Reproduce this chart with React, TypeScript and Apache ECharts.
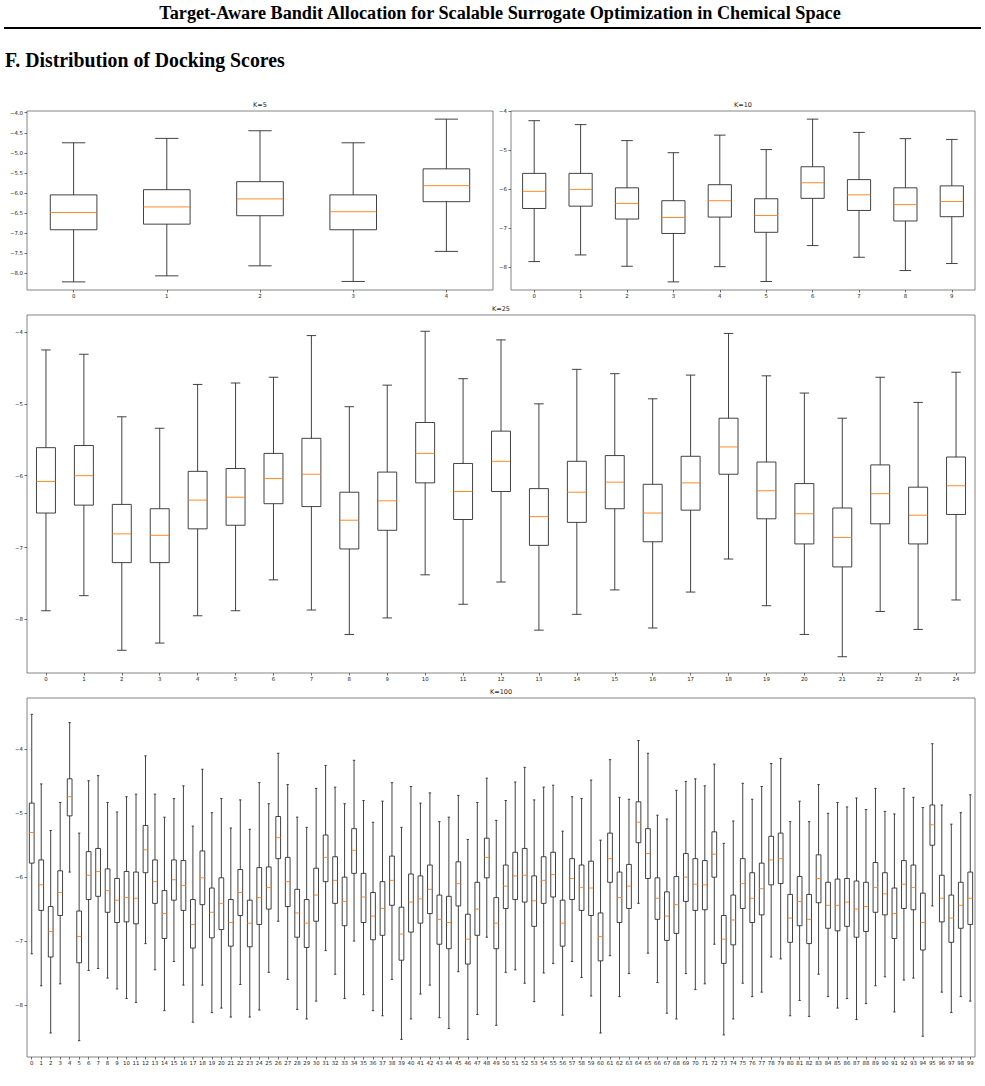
import React, { useEffect, useRef } from "react";
import * as echarts from "echarts";

// Each box: [lower whisker, Q1, median, Q3, upper whisker]
const k5Boxes: number[][] = [
  [-8.22, -6.92, -6.49, -6.05, -4.75],
  [-8.07, -6.78, -6.35, -5.92, -4.64],
  [-7.82, -6.57, -6.15, -5.72, -4.45],
  [-8.21, -6.92, -6.47, -6.05, -4.75],
  [-7.46, -6.22, -5.82, -5.40, -4.16],
];

const k10Boxes: number[][] = [
  [-7.85, -6.49, -6.05, -5.59, -4.24],
  [-7.68, -6.43, -6.00, -5.59, -4.34],
  [-7.97, -6.76, -6.36, -5.96, -4.75],
  [-8.37, -7.13, -6.72, -6.29, -5.06],
  [-7.98, -6.71, -6.29, -5.88, -4.61],
  [-8.36, -7.10, -6.67, -6.24, -4.98],
  [-7.44, -6.23, -5.83, -5.42, -4.20],
  [-7.74, -6.54, -6.14, -5.75, -4.54],
  [-8.08, -6.81, -6.39, -5.96, -4.70],
  [-7.90, -6.70, -6.31, -5.91, -4.72],
];

const k25Boxes: number[][] = [
  [-7.88, -6.52, -6.08, -5.61, -4.25],
  [-7.67, -6.41, -6.00, -5.58, -4.31],
  [-8.43, -7.21, -6.81, -6.40, -5.18],
  [-8.33, -7.21, -6.83, -6.46, -5.34],
  [-7.95, -6.74, -6.34, -5.94, -4.73],
  [-7.88, -6.69, -6.30, -5.90, -4.71],
  [-7.45, -6.39, -6.04, -5.69, -4.63],
  [-7.87, -6.43, -5.98, -5.48, -4.05],
  [-8.21, -7.02, -6.62, -6.23, -5.04],
  [-7.98, -6.76, -6.35, -5.95, -4.74],
  [-7.38, -6.10, -5.69, -5.26, -3.99],
  [-7.79, -6.61, -6.22, -5.83, -4.65],
  [-7.48, -6.22, -5.80, -5.38, -4.11],
  [-8.15, -6.97, -6.57, -6.18, -5.00],
  [-7.93, -6.65, -6.23, -5.80, -4.52],
  [-7.59, -6.46, -6.09, -5.72, -4.58],
  [-8.12, -6.92, -6.52, -6.12, -4.93],
  [-7.62, -6.48, -6.10, -5.73, -4.60],
  [-7.16, -5.98, -5.60, -5.20, -4.02],
  [-7.81, -6.60, -6.21, -5.81, -4.61],
  [-8.21, -6.95, -6.53, -6.11, -4.85],
  [-8.52, -7.27, -6.86, -6.45, -5.20],
  [-7.89, -6.67, -6.25, -5.85, -4.63],
  [-8.14, -6.95, -6.55, -6.16, -4.98],
  [-7.73, -6.54, -6.14, -5.74, -4.56],
];

const k100Boxes: number[][] = [
  [-7.20, -5.78, -5.30, -4.84, -3.45],
  [-7.70, -6.52, -6.12, -5.73, -4.54],
  [-8.44, -7.25, -6.85, -6.46, -5.27],
  [-7.67, -6.60, -6.24, -5.90, -4.83],
  [-5.92, -5.04, -4.74, -4.46, -3.58],
  [-8.56, -7.34, -6.93, -6.53, -5.31],
  [-7.46, -6.35, -5.97, -5.60, -4.49],
  [-7.43, -6.30, -5.91, -5.55, -4.41],
  [-7.58, -6.55, -6.21, -5.87, -4.83],
  [-7.75, -6.71, -6.36, -6.02, -4.98],
  [-7.90, -6.70, -6.32, -5.91, -4.74],
  [-7.96, -6.73, -6.33, -5.92, -4.70],
  [-7.04, -5.93, -5.57, -5.19, -4.10],
  [-7.45, -6.41, -6.07, -5.73, -4.70],
  [-8.09, -6.96, -6.57, -6.21, -5.06],
  [-7.32, -6.36, -6.04, -5.73, -4.77],
  [-7.69, -6.52, -6.13, -5.74, -4.57],
  [-8.27, -7.11, -6.74, -6.35, -5.20],
  [-7.69, -6.43, -6.01, -5.59, -4.31],
  [-8.12, -6.95, -6.55, -6.17, -4.99],
  [-8.05, -6.82, -6.41, -6.01, -4.77],
  [-8.19, -7.08, -6.71, -6.35, -5.23],
  [-7.68, -6.60, -6.24, -5.88, -4.79],
  [-8.19, -7.09, -6.72, -6.36, -5.25],
  [-8.08, -6.74, -6.32, -5.85, -4.52],
  [-7.49, -6.50, -6.16, -5.84, -4.85],
  [-6.69, -5.71, -5.38, -5.05, -4.06],
  [-7.60, -6.46, -6.07, -5.69, -4.55],
  [-8.07, -6.94, -6.56, -6.19, -5.06],
  [-8.22, -7.10, -6.72, -6.35, -5.22],
  [-7.94, -6.69, -6.28, -5.86, -4.61],
  [-7.15, -6.07, -5.69, -5.34, -4.25],
  [-7.52, -6.41, -6.05, -5.68, -4.59],
  [-7.90, -6.76, -6.38, -6.00, -4.85],
  [-7.00, -5.94, -5.58, -5.24, -4.17],
  [-7.84, -6.71, -6.31, -5.94, -4.80],
  [-8.09, -6.98, -6.61, -6.24, -5.14],
  [-8.17, -6.91, -6.49, -6.07, -4.81],
  [-7.60, -6.44, -6.05, -5.67, -4.52],
  [-8.54, -7.30, -6.89, -6.47, -5.22],
  [-8.22, -6.86, -6.39, -5.95, -4.58],
  [-7.83, -6.72, -6.34, -5.98, -4.84],
  [-7.69, -6.57, -6.19, -5.81, -4.68],
  [-8.20, -7.05, -6.66, -6.28, -5.13],
  [-8.37, -7.12, -6.71, -6.30, -5.06],
  [-7.48, -6.45, -6.10, -5.76, -4.72],
  [-8.54, -7.36, -6.97, -6.58, -5.41],
  [-8.15, -6.91, -6.50, -6.08, -4.83],
  [-6.94, -6.01, -5.69, -5.39, -4.45],
  [-8.32, -7.12, -6.72, -6.32, -5.11],
  [-7.49, -6.49, -6.14, -5.81, -4.80],
  [-7.45, -6.35, -5.98, -5.61, -4.51],
  [-7.66, -6.39, -5.97, -5.55, -4.28],
  [-7.95, -6.77, -6.37, -5.98, -4.79],
  [-7.50, -6.41, -6.05, -5.68, -4.59],
  [-7.35, -6.31, -5.96, -5.61, -4.56],
  [-8.16, -7.08, -6.72, -6.36, -5.28],
  [-7.32, -6.35, -6.02, -5.71, -4.74],
  [-7.57, -6.52, -6.16, -5.81, -4.77],
  [-7.86, -6.60, -6.17, -5.75, -4.48],
  [-8.44, -7.31, -6.93, -6.56, -5.42],
  [-7.23, -6.08, -5.71, -5.31, -4.16],
  [-7.87, -6.71, -6.32, -5.92, -4.75],
  [-7.51, -6.49, -6.14, -5.80, -4.78],
  [-6.41, -5.46, -5.14, -4.82, -3.86],
  [-7.19, -6.02, -5.63, -5.24, -4.06],
  [-7.65, -6.66, -6.33, -6.01, -5.03],
  [-8.13, -6.99, -6.61, -6.23, -5.09],
  [-8.22, -6.88, -6.43, -5.99, -4.64],
  [-7.51, -6.38, -6.00, -5.63, -4.50],
  [-7.76, -6.52, -6.11, -5.71, -4.46],
  [-7.67, -6.51, -6.12, -5.74, -4.57],
  [-7.05, -6.00, -5.64, -5.29, -4.23],
  [-8.47, -7.35, -6.97, -6.60, -5.47],
  [-8.22, -7.06, -6.67, -6.28, -5.12],
  [-7.66, -6.49, -6.10, -5.71, -4.53],
  [-7.87, -6.71, -6.33, -5.93, -4.78],
  [-7.80, -6.59, -6.18, -5.78, -4.58],
  [-7.25, -6.12, -5.73, -5.36, -4.22],
  [-7.28, -6.10, -5.71, -5.31, -4.14],
  [-8.17, -7.02, -6.64, -6.27, -5.13],
  [-7.93, -6.76, -6.38, -5.99, -4.81],
  [-8.18, -7.04, -6.66, -6.27, -5.13],
  [-7.52, -6.40, -6.02, -5.65, -4.55],
  [-7.87, -6.80, -6.44, -6.08, -5.00],
  [-8.05, -6.84, -6.44, -6.03, -4.83],
  [-7.90, -6.77, -6.39, -6.02, -4.90],
  [-8.23, -6.94, -6.50, -6.06, -4.76],
  [-7.98, -6.85, -6.46, -6.08, -4.94],
  [-7.70, -6.55, -6.16, -5.77, -4.61],
  [-7.56, -6.59, -6.26, -5.93, -4.97],
  [-8.11, -6.96, -6.57, -6.17, -5.01],
  [-7.61, -6.49, -6.11, -5.74, -4.61],
  [-7.58, -6.51, -6.16, -5.81, -4.75],
  [-8.49, -7.14, -6.71, -6.25, -4.91],
  [-6.45, -5.50, -5.18, -4.87, -3.91],
  [-7.80, -6.70, -6.33, -5.97, -4.87],
  [-8.12, -7.02, -6.64, -6.28, -5.17],
  [-7.87, -6.80, -6.44, -6.08, -4.99],
  [-7.94, -6.74, -6.33, -5.92, -4.71],
];

const k5YTicks = [-8.0, -7.5, -7.0, -6.5, -6.0, -5.5, -5.0, -4.5, -4.0];
const k10YTicks = [-8, -7, -6, -5, -4];
const k25YTicks = [-8, -7, -6, -5, -4];
const k100YTicks = [-8, -7, -6, -5, -4];

const pageTitle = "Target-Aware Bandit Allocation for Scalable Surrogate Optimization in Chemical Space";
const sectionTitle = "F. Distribution of Docking Scores";

const FONT = '"DejaVu Sans"';
const SERIF = '"Liberation Serif", "Times New Roman", serif';
const BOX_COLOR = "#2e2e2e";
const MEDIAN_COLOR = "#ff7f0e";
const LW = 0.9;

type Panel = {
  title: string;
  boxes: number[][];
  yTicks: number[];
  decimals: number;
  left: number;
  top: number;
  width: number;
  height: number;
};

const panels: Panel[] = [
  { title: "K=5", boxes: k5Boxes, yTicks: k5YTicks, decimals: 1, left: 27, top: 111, width: 466, height: 179 },
  { title: "K=10", boxes: k10Boxes, yTicks: k10YTicks, decimals: 0, left: 511, top: 111, width: 464, height: 179 },
  { title: "K=25", boxes: k25Boxes, yTicks: k25YTicks, decimals: 0, left: 27, top: 315, width: 948, height: 358 },
  { title: "K=100", boxes: k100Boxes, yTicks: k100YTicks, decimals: 0, left: 27, top: 698, width: 948, height: 359 },
];

function fmt(v: number, d: number) {
  return (v < 0 ? "\u2212" : "") + Math.abs(v).toFixed(d);
}

function renderBox(params: any, api: any) {
  const x = api.value(0);
  const lo = api.coord([x, api.value(1)]);
  const q1 = api.coord([x, api.value(2)]);
  const md = api.coord([x, api.value(3)]);
  const q3 = api.coord([x, api.value(4)]);
  const hi = api.coord([x, api.value(5)]);
  const bw = api.size([1, 0])[0];
  const cx = md[0];
  const hw = bw * 0.25;
  const cw = bw * 0.125;
  const st = { stroke: BOX_COLOR, lineWidth: LW, fill: null };
  return {
    type: "group",
    children: [
      { type: "line", shape: { x1: cx, y1: q3[1], x2: cx, y2: hi[1] }, style: st },
      { type: "line", shape: { x1: cx, y1: q1[1], x2: cx, y2: lo[1] }, style: st },
      { type: "line", shape: { x1: cx - cw, y1: hi[1], x2: cx + cw, y2: hi[1] }, style: st },
      { type: "line", shape: { x1: cx - cw, y1: lo[1], x2: cx + cw, y2: lo[1] }, style: st },
      { type: "rect", shape: { x: cx - hw, y: q3[1], width: 2 * hw, height: q1[1] - q3[1] }, style: { stroke: BOX_COLOR, lineWidth: LW, fill: "none" } },
      { type: "line", shape: { x1: cx - hw, y1: md[1], x2: cx + hw, y2: md[1] }, style: { stroke: MEDIAN_COLOR, lineWidth: LW } },
    ],
  };
}

export default function App() {
  const ref = useRef<HTMLDivElement>(null);
  useEffect(() => {
    if (!ref.current) return;
    const chart = echarts.init(ref.current, undefined, { renderer: "svg" });

    const grid: any[] = [];
    const xAxis: any[] = [];
    const yAxis: any[] = [];
    const series: any[] = [];
    const graphic: any[] = [];

    panels.forEach((p, i) => {
      let mn = Infinity;
      let mx = -Infinity;
      p.boxes.forEach((b) => {
        mn = Math.min(mn, b[0]);
        mx = Math.max(mx, b[4]);
      });
      const pad = (mx - mn) * 0.05;
      grid.push({
        left: p.left,
        top: p.top,
        width: p.width,
        height: p.height,
        show: true,
        borderColor: "#666",
        borderWidth: 0.8,
        backgroundColor: "transparent",
      });
      xAxis.push({
        type: "category",
        gridIndex: i,
        data: p.boxes.map((_, k) => String(k)),
        boundaryGap: true,
        axisLine: { show: false },
        axisTick: { show: true, alignWithLabel: true, length: 2.5, lineStyle: { color: "#333", width: 0.7 } },
        axisLabel: { interval: 0, fontFamily: FONT, fontSize: 5.4, color: "#222", margin: 3.5, hideOverlap: false },
        splitLine: { show: false },
      });
      yAxis.push({
        type: "value",
        gridIndex: i,
        min: mn - pad,
        max: mx + pad,
        axisLine: { show: false },
        axisTick: { show: true, length: 2.5, customValues: p.yTicks, lineStyle: { color: "#333", width: 0.7 } },
        axisLabel: {
          customValues: p.yTicks,
          fontFamily: FONT,
          fontSize: 5.4,
          color: "#222",
          margin: 4,
          formatter: (v: number) => fmt(v, p.decimals),
        },
        splitLine: { show: false },
      });
      series.push({
        type: "custom",
        xAxisIndex: i,
        yAxisIndex: i,
        renderItem: renderBox,
        encode: { x: 0, y: [1, 2, 3, 4, 5] },
        data: p.boxes.map((b, k) => [k, ...b]),
        silent: true,
      });
      graphic.push({
        type: "text",
        x: p.left + p.width / 2,
        y: p.top - 6,
        style: {
          text: p.title,
          font: `6.5px ${FONT}`,
          fill: "#222",
          textAlign: "center",
          textVerticalAlign: "middle",
        },
      });
    });

    graphic.push({
      type: "text",
      x: 500,
      y: 13,
      style: {
        text: pageTitle,
        font: `bold 18.2px ${SERIF}`,
        fill: "#000",
        textAlign: "center",
        textVerticalAlign: "middle",
      },
    });
    graphic.push({
      type: "rect",
      shape: { x: 4, y: 27, width: 977, height: 2 },
      style: { fill: "#000" },
    });
    graphic.push({
      type: "text",
      x: 5,
      y: 60,
      scaleX: 0.9,
      style: {
        text: sectionTitle,
        font: `bold 22px ${SERIF}`,
        fill: "#000",
        textAlign: "left",
        textVerticalAlign: "middle",
      },
    });

    chart.setOption({
      animation: false,
      backgroundColor: "#fff",
      grid,
      xAxis,
      yAxis,
      series,
      graphic,
    });
    return () => chart.dispose();
  }, []);

  return (
    <div
      ref={ref}
      style={{ position: "absolute", left: 0, top: 0, width: 985, height: 1086, background: "#fff" }}
    />
  );
}
